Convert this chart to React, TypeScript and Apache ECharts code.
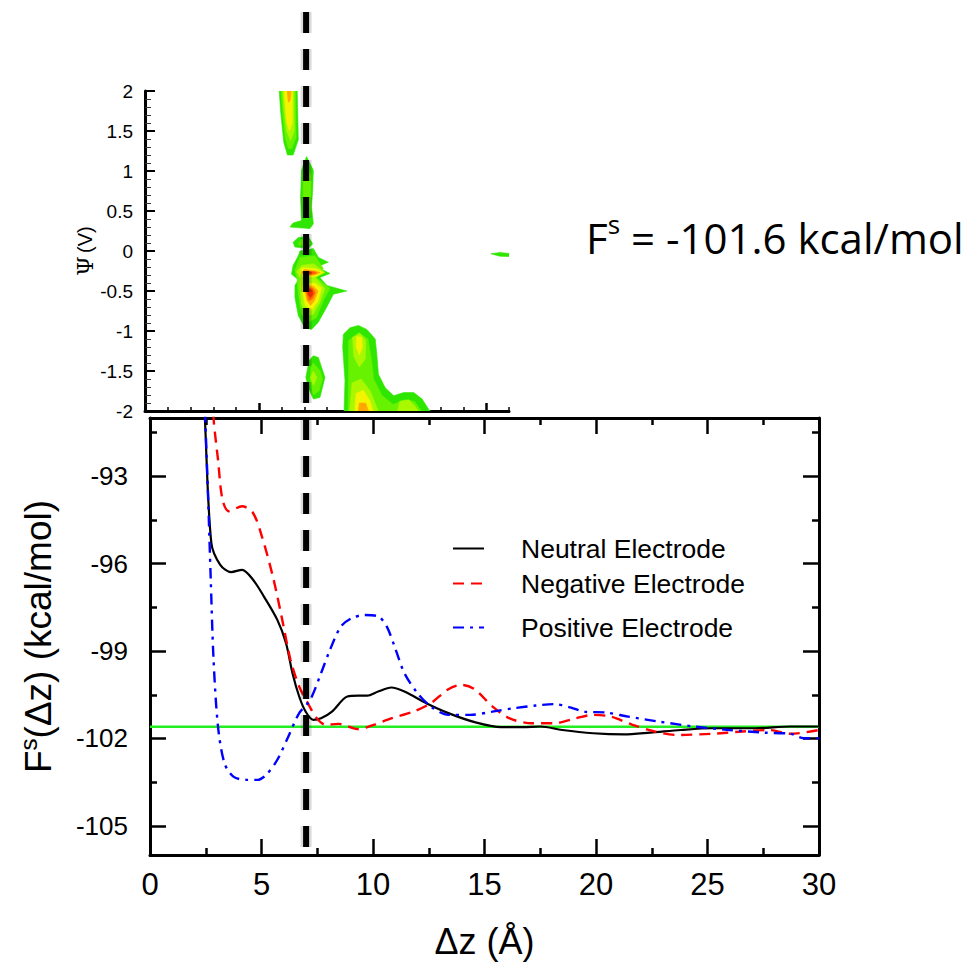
import React, { useEffect, useRef } from "react";
import * as echarts from "echarts";

// ---------- data: bottom panel (Δz in Å, F in kcal/mol) ----------
const neutralData: number[][] = [
  [2.3, -88.5], [2.46, -91], [2.75, -95.29], [3.15, -96.04], [3.64, -96.29], [4.13, -96.21],
  [4.62, -96.55], [5.11, -97.13], [5.71, -97.93], [6.1, -98.73], [6.39, -99.76],
  [6.69, -100.56], [6.98, -101.08], [7.32, -101.36], [7.67, -101.31], [8.16, -101.08],
  [8.85, -100.56], [9.35, -100.53], [9.74, -100.53], [10.23, -100.39], [10.82, -100.25],
  [11.41, -100.39], [12.39, -100.79], [13.38, -101.13], [14.56, -101.44], [15.74, -101.61],
  [16.72, -101.61], [17.51, -101.59], [18.49, -101.71], [19.87, -101.82], [21.25, -101.86],
  [22.43, -101.8], [23.8, -101.71], [25.18, -101.65], [27.15, -101.65], [28.72, -101.59],
  [30, -101.59],
];
const negativeData: number[][] = [
  [2.75, -89], [2.85, -91], [3.05, -92.43], [3.25, -93.8], [3.54, -94.2], [4.13, -94.03],
  [4.62, -94.26], [5.02, -95.07], [5.51, -96.44], [5.9, -97.81], [6.3, -99.3],
  [6.69, -100.22], [7.08, -100.79], [7.48, -101.31], [7.87, -101.53], [8.46, -101.5],
  [9.35, -101.68], [10.03, -101.53], [10.82, -101.31], [11.8, -101.08], [12.59, -100.79],
  [13.38, -100.31], [13.97, -100.16], [14.56, -100.31], [15.35, -100.9], [16.13, -101.31],
  [17.12, -101.48], [18.1, -101.48], [19.08, -101.31], [19.87, -101.19], [20.66, -101.25],
  [21.64, -101.53], [22.62, -101.76], [23.61, -101.88], [25.18, -101.84], [26.56, -101.76],
  [27.74, -101.71], [28.72, -101.84], [30, -101.71],
];
const positiveData: number[][] = [
  [2.42, -89], [2.48, -91], [2.6, -93.58], [2.72, -96.44], [2.85, -99.3], [3.05, -101.59],
  [3.34, -102.85], [3.74, -103.31], [4.33, -103.42], [4.82, -103.42], [5.21, -103.25],
  [5.71, -102.73], [6.2, -101.94], [6.69, -101.13], [7.18, -100.68], [7.67, -99.76],
  [8.07, -98.96], [8.56, -98.16], [9.05, -97.87], [9.64, -97.76], [10.23, -97.81],
  [10.62, -98.16], [11.02, -98.96], [11.41, -99.76], [12.0, -100.45], [12.59, -100.9],
  [13.38, -101.19], [14.36, -101.19], [15.35, -101.08], [16.33, -100.96], [17.31, -100.87],
  [18.1, -100.82], [18.88, -100.94], [19.48, -101.08], [20.46, -101.11], [21.44, -101.25],
  [22.82, -101.42], [24.39, -101.59], [25.97, -101.71], [27.54, -101.8], [28.72, -101.84],
  [29.31, -101.99], [30, -101.99],
];
const referenceValue = -101.6;
// vertical divider at Δz = 7 Å, running from the bottom of the lower panel up past both panels
const dividerData: number[][] = [[7.0, -77.06], [7.0, -106]];
const seriesNames = ["Neutral Electrode", "Negative Electrode", "Positive Electrode"];
const bottomYTicks = [-105, -102, -99, -96, -93];
const bottomYMinorTicks = [-103.5, -100.5, -97.5, -94.5, -91.5];
const topXTicks = [5, 10, 15];
const topXMinorTicks = [1, 2, 3, 4, 6, 7, 8, 9, 11, 12, 13, 14, 16];

// ---------- data: top panel contour (Δz, Ψ) ----------
const levelColors = ["#2ee600", "#66f200", "#aaf800", "#f4f400", "#ffa800", "#ff6000", "#e82a00"];
type Poly = [number, number[][]];
const blobA: Poly[] = [
  [0, [[5.9, 2], [6.69, 2], [6.74, 1.39], [6.51, 1.2], [6.26, 1.2], [6.1, 1.36], [5.97, 1.72]]],
  [1, [[5.98, 2], [6.62, 2], [6.64, 1.42], [6.45, 1.28], [6.3, 1.28], [6.16, 1.42], [6.04, 1.75]]],
  [2, [[6.05, 2], [6.55, 2], [6.56, 1.5], [6.4, 1.38], [6.22, 1.5], [6.1, 1.8]]],
  [3, [[6.12, 2], [6.48, 2], [6.47, 1.6], [6.35, 1.5], [6.22, 1.62], [6.16, 1.85]]],
  [4, [[6.25, 2], [6.42, 2], [6.38, 1.88], [6.3, 1.86]]],
];
const blobB: Poly[] = [
  [0, [[7.1, 1.18], [7.4, 1.01], [7.37, 0.76], [7.32, 0.55], [7.4, 0.34], [7.25, 0.28], [6.37, 0.3], [6.51, 0.35], [6.88, 0.38], [6.84, 0.68], [6.88, 1.01]]],
  [1, [[7.1, 1.05], [7.3, 0.95], [7.28, 0.7], [7.25, 0.45], [7.1, 0.4], [6.95, 0.6], [6.95, 0.95]]],
];
const blobC: Poly[] = [
  [0, [[6.74, 0.17], [7.18, 0.18], [7.37, 0.09], [7.18, 0.03], [6.59, 0.05], [6.51, 0.11]]],
  [1, [[6.85, 0.14], [7.15, 0.14], [7.25, 0.09], [7.1, 0.06], [6.75, 0.08]]],
  [0, [[6.81, 0.0], [7.4, 0.03], [7.62, -0.08], [8.06, -0.14], [7.54, -0.2], [8.13, -0.28], [7.69, -0.33], [7.99, -0.43], [8.87, -0.5], [8.28, -0.54], [7.99, -0.7], [7.62, -0.89], [7.32, -0.98], [7.03, -0.96], [6.74, -0.81], [6.59, -0.58], [6.59, -0.43], [6.74, -0.36], [6.44, -0.29], [6.51, -0.18], [6.74, -0.06]]],
  [1, [[6.81, -0.08], [7.47, -0.06], [7.84, -0.22], [7.54, -0.33], [8.13, -0.47], [7.84, -0.62], [7.54, -0.83], [7.18, -0.89], [6.88, -0.79], [6.74, -0.54], [6.69, -0.35], [6.59, -0.24]]],
  [2, [[6.88, -0.18], [7.4, -0.16], [7.91, -0.27], [7.47, -0.33], [7.91, -0.47], [7.69, -0.64], [7.4, -0.79], [7.1, -0.81], [6.88, -0.66], [6.81, -0.45], [6.84, -0.35], [6.66, -0.26]]],
  [3, [[6.9, -0.21], [7.5, -0.22], [7.84, -0.27], [7.5, -0.32], [6.95, -0.33], [6.8, -0.27]]],
  [3, [[6.95, -0.41], [7.45, -0.4], [7.76, -0.46], [7.62, -0.62], [7.32, -0.74], [7.05, -0.68], [6.93, -0.52]]],
  [4, [[7.0, -0.23], [7.5, -0.25], [7.7, -0.27], [7.45, -0.3], [7.0, -0.31], [6.9, -0.27]]],
  [4, [[7.05, -0.43], [7.4, -0.44], [7.6, -0.5], [7.45, -0.62], [7.28, -0.68], [7.12, -0.62], [7.03, -0.5]]],
  [5, [[7.08, -0.25], [7.45, -0.26], [7.55, -0.275], [7.4, -0.29], [7.05, -0.29]]],
  [5, [[7.12, -0.45], [7.38, -0.47], [7.48, -0.52], [7.35, -0.6], [7.2, -0.62], [7.1, -0.52]]],
  [6, [[7.12, -0.26], [7.35, -0.27], [7.3, -0.285], [7.1, -0.285]]],
  [6, [[7.17, -0.47], [7.35, -0.49], [7.38, -0.54], [7.27, -0.58], [7.16, -0.54]]],
];
const blobD: Poly[] = [
  [0, [[7.4, -1.31], [7.62, -1.33], [7.91, -1.58], [7.69, -1.83], [7.4, -1.85], [7.18, -1.71], [7.07, -1.58], [7.21, -1.37]]],
  [1, [[7.4, -1.4], [7.7, -1.5], [7.8, -1.6], [7.65, -1.75], [7.4, -1.8], [7.25, -1.6], [7.3, -1.45]]],
  [2, [[7.4, -1.5], [7.55, -1.58], [7.4, -1.68], [7.28, -1.58]]],
];
const blobE: Poly[] = [
  [0, [[8.72, -1.04], [9.01, -0.96], [9.38, -0.93], [9.75, -0.98], [10.12, -1.1], [10.19, -1.29], [10.26, -1.54], [10.56, -1.71], [10.93, -1.81], [11.37, -1.77], [11.81, -1.77], [12.18, -1.85], [12.47, -1.98], [12.54, -2.0], [8.75, -2.0], [8.79, -1.62], [8.69, -1.2]]],
  [1, [[8.95, -1.12], [9.4, -1.02], [9.8, -1.1], [9.95, -1.35], [10.05, -1.6], [10.4, -1.8], [10.9, -1.92], [11.4, -1.86], [11.85, -1.88], [12.15, -2.0], [8.92, -2.0], [8.95, -1.6]]],
  [2, [[9.12, -1.08], [9.45, -1.03], [9.7, -1.12], [9.68, -1.35], [9.42, -1.45], [9.18, -1.32]]],
  [2, [[9.1, -1.65], [9.5, -1.6], [9.9, -1.75], [10.25, -2.0], [9.0, -2.0]]],
  [2, [[11.2, -1.88], [11.6, -1.86], [11.9, -1.95], [12.0, -2.0], [11.1, -2.0]]],
  [3, [[9.3, -1.07], [9.52, -1.08], [9.56, -1.2], [9.42, -1.3], [9.28, -1.2]]],
  [3, [[9.28, -1.78], [9.6, -1.74], [9.9, -1.88], [10.02, -2.0], [9.22, -2.0]]],
  [4, [[9.42, -1.9], [9.7, -1.9], [9.82, -2.0], [9.38, -2.0]]],
];
const blobF: Poly[] = [
  [0, [[15.2, -0.035], [15.6, -0.02], [16.0, -0.03], [16.0, -0.07], [15.6, -0.065]]],
];
const contourPolys: Poly[] = [...blobA, ...blobB, ...blobC, ...blobD, ...blobE, ...blobF];

const SANS = "Liberation Sans, Arial, Helvetica, sans-serif";

export default function App() {
  const ref = useRef<HTMLDivElement>(null);
  useEffect(() => {
    if (!ref.current) return;
    const chart = echarts.init(ref.current, undefined, { renderer: "svg" });
    const black = "#000";
    const axisLine = { show: true, onZero: false, lineStyle: { color: black, width: 3 } };
    const noSplit = { show: false };
    const topGrid = { left: 145, top: 91, width: 364, height: 320 };
    const botGrid = { left: 150, top: 418, width: 669, height: 437 };

    const lineBase = {
      type: "line" as const,
      xAxisIndex: 2,
      yAxisIndex: 1,
      symbol: "none",
      showSymbol: false,
      smooth: 0.3,
      clip: true,
      z: 5,
    };

    const legendCommon = {
      orient: "horizontal" as const,
      itemWidth: 31,
      itemHeight: 14,
      itemStyle: { opacity: 0 },
      textStyle: { fontSize: 26.5, fontFamily: SANS, color: black, padding: [0, 0, 0, 32] },
    };

    chart.setOption({
      animation: false,
      backgroundColor: "#fff",
      grid: [topGrid, botGrid],
      xAxis: [
        {
          gridIndex: 0, type: "value", min: 0, max: 16, position: "bottom",
          axisLine, splitLine: noSplit,
          axisTick: { show: true, inside: true, length: 8, customValues: topXTicks, lineStyle: { color: black, width: 2.5 } },
          axisLabel: { show: false },
        },
        {
          gridIndex: 0, type: "value", min: 0, max: 16, position: "bottom",
          axisLine: { show: false, onZero: false }, splitLine: noSplit,
          axisTick: { show: true, inside: true, length: 4, customValues: topXMinorTicks, lineStyle: { color: black, width: 1.5 } },
          axisLabel: { show: false },
        },
        {
          gridIndex: 1, type: "value", min: 0, max: 30, interval: 5, position: "bottom",
          axisLine, splitLine: noSplit,
          axisTick: { show: true, inside: true, length: 16, lineStyle: { color: black, width: 2.5 } },
          minorTick: { show: true, splitNumber: 2, length: 7, lineStyle: { color: black, width: 2.5 } },
          axisLabel: { fontSize: 31, fontFamily: SANS, color: black, margin: 14 },
          name: "Δz (Å)", nameLocation: "middle", nameGap: 68,
          nameTextStyle: { fontSize: 36, fontFamily: SANS, color: black },
        },
        {
          gridIndex: 1, type: "value", min: 0, max: 30, interval: 5, position: "top",
          axisLine, splitLine: noSplit,
          axisTick: { show: true, inside: true, length: 16, lineStyle: { color: black, width: 2.5 } },
          minorTick: { show: true, splitNumber: 2, length: 7, lineStyle: { color: black, width: 2.5 } },
          axisLabel: { show: false },
        },
      ],
      yAxis: [
        {
          gridIndex: 0, type: "value", min: -2, max: 2, interval: 0.5, position: "left",
          axisLine, splitLine: noSplit,
          axisTick: { show: true, inside: true, length: 10, lineStyle: { color: black, width: 2 } },
          minorTick: { show: true, splitNumber: 5, length: 6, lineStyle: { color: "#333", width: 1 } },
          axisLabel: { fontSize: 19, fontFamily: SANS, color: black, margin: 12 },
          name: "{p|Ψ} {v|(V)}", nameLocation: "middle", nameRotate: 90, nameGap: 44,
          nameTextStyle: {
            color: black,
            rich: {
              p: { fontSize: 22, fontFamily: "DejaVu Serif, Liberation Serif, serif", color: black },
              v: { fontSize: 20, fontFamily: SANS, color: black },
            },
          },
        },
        {
          gridIndex: 1, type: "value", min: -106, max: -91, position: "left",
          axisLine, splitLine: noSplit,
          axisTick: { show: true, inside: true, length: 16, customValues: bottomYTicks, lineStyle: { color: black, width: 2.5 } },
          axisLabel: { customValues: bottomYTicks, fontSize: 26, fontFamily: SANS, color: black, margin: 22 },
          name: "{a|F}{b|s}{a|(Δz) (kcal/mol)}", nameLocation: "middle", nameRotate: 90, nameGap: 90,
          nameTextStyle: {
            color: black,
            rich: {
              a: { fontSize: 37, fontFamily: SANS, color: black, lineHeight: 44 },
              b: { fontSize: 24, fontFamily: SANS, color: black, lineHeight: 24, verticalAlign: "top" },
            },
          },
        },
        {
          gridIndex: 1, type: "value", min: -106, max: -91, position: "left",
          axisLine: { show: false, onZero: false }, splitLine: noSplit,
          axisTick: { show: true, inside: true, length: 7, customValues: bottomYMinorTicks, lineStyle: { color: black, width: 2.5 } },
          axisLabel: { show: false },
        },
        {
          gridIndex: 1, type: "value", min: -106, max: -91, position: "right",
          axisLine, splitLine: noSplit,
          axisTick: { show: true, inside: true, length: 16, customValues: bottomYTicks, lineStyle: { color: black, width: 2.5 } },
          axisLabel: { show: false },
        },
        {
          gridIndex: 1, type: "value", min: -106, max: -91, position: "right",
          axisLine: { show: false, onZero: false }, splitLine: noSplit,
          axisTick: { show: true, inside: true, length: 7, customValues: bottomYMinorTicks, lineStyle: { color: black, width: 2.5 } },
          axisLabel: { show: false },
        },
      ],
      legend: [
        { ...legendCommon, data: [seriesNames[0]], left: 447, top: 530 },
        { ...legendCommon, data: [seriesNames[1]], left: 447, top: 565 },
        { ...legendCommon, data: [seriesNames[2]], left: 447, top: 609 },
      ],
      series: [
        {
          type: "custom",
          xAxisIndex: 0,
          yAxisIndex: 0,
          clip: true,
          z: 2,
          data: contourPolys.map((p) => p[1][0]),
          renderItem: (params: any, api: any) => {
            const poly = contourPolys[params.dataIndex];
            const color = levelColors[poly[0]];
            return {
              type: "polygon",
              shape: { points: poly[1].map((pt) => api.coord(pt)) },
              style: { fill: color, stroke: color, lineWidth: 0.6 },
            };
          },
        },
        {
          type: "line",
          name: "reference",
          xAxisIndex: 2,
          yAxisIndex: 1,
          symbol: "none",
          data: [[0, referenceValue], [30, referenceValue]],
          lineStyle: { color: "#22ee22", width: 2.5 },
          z: 3,
        },
        {
          ...lineBase,
          name: seriesNames[0],
          data: neutralData,
          lineStyle: { color: "#000000", width: 2.2, type: "solid" },
          itemStyle: { color: "#000000" },
        },
        {
          ...lineBase,
          name: seriesNames[1],
          data: negativeData,
          lineStyle: { color: "#ff0000", width: 2.4, type: [11, 7] },
          itemStyle: { color: "#ff0000" },
        },
        {
          ...lineBase,
          name: seriesNames[2],
          data: positiveData,
          lineStyle: { color: "#0000ff", width: 2.4, type: [11, 6, 3, 6] },
          itemStyle: { color: "#0000ff" },
        },
        {
          type: "line",
          name: "divider halo",
          xAxisIndex: 2,
          yAxisIndex: 1,
          symbol: "none",
          clip: false,
          z: 19,
          data: dividerData,
          lineStyle: { color: "rgba(0,0,0,0.14)", width: 11, type: [21, 16], cap: "butt" },
        },
        {
          type: "line",
          name: "divider",
          xAxisIndex: 2,
          yAxisIndex: 1,
          symbol: "none",
          clip: false,
          z: 20,
          data: dividerData,
          lineStyle: { color: "#000", width: 6, type: [21, 16], cap: "butt" },
        },
      ],
      graphic: [
        {
          id: "fsText",
          type: "text",
          left: 586,
          top: 211,
          style: {
            text: "{a|F}{b|s}{a| = -101.6 kcal/mol}",
            fill: black,
            rich: {
              a: { fontSize: 42, fontFamily: "Open Sans, Noto Sans, sans-serif", fill: black, lineHeight: 52 },
              b: { fontSize: 26, fontFamily: "Open Sans, Noto Sans, sans-serif", fill: black, lineHeight: 32, verticalAlign: "top" },
            },
          },
        },
      ],
    });

    return () => chart.dispose();
  }, []);

  return (
    <div
      ref={ref}
      style={{ position: "absolute", left: 0, top: 0, width: 976, height: 970, background: "#fff" }}
    />
  );
}
